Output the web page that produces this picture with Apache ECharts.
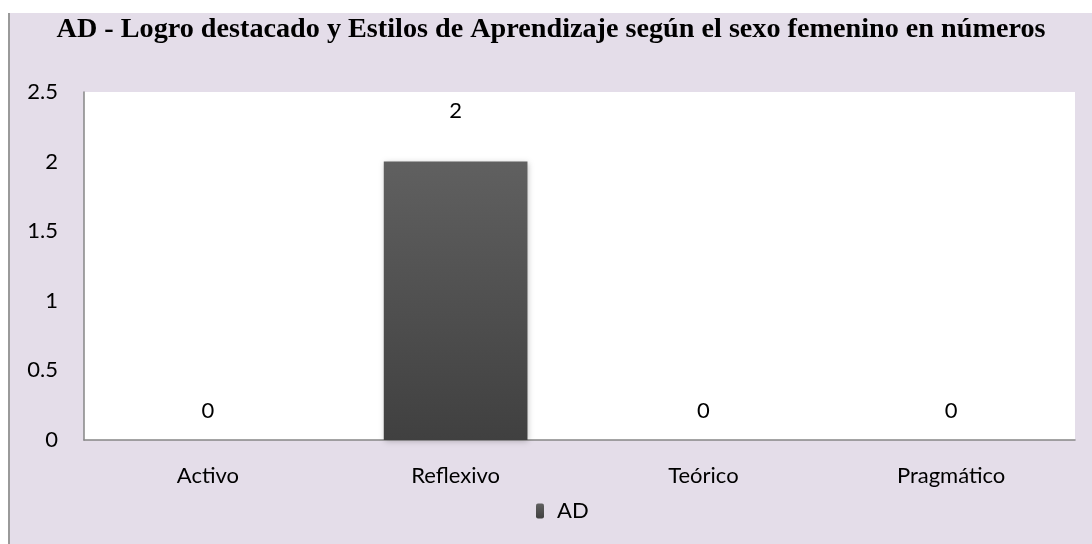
<!DOCTYPE html>
<html>
<head>
<meta charset="utf-8">
<script src="https://cdn.jsdelivr.net/npm/echarts@6/dist/echarts.min.js"></script>
<style>
    html, body { margin: 0; padding: 0; background: #ffffff; }
    #chart {
        position: absolute; left: 8px; top: 13px;
        width: 1084px; height: 531px;
        border-left: 2px solid #9a9a9a;
        box-sizing: border-box;
    }
</style>
</head>
<body>
<div id="chart"></div>
<script>
    // datos del gráfico
    var titulo = 'AD - Logro destacado y Estilos de Aprendizaje según el sexo femenino en números';
    var estilos = ['Activo', 'Reflexivo', 'Teórico', 'Pragmático'];
    var valoresAD = [0, 2, 0, 0];
    var nombreSerie = 'AD';

    var myChart = echarts.init(document.getElementById('chart'));

    var fuente = 'Lato, "Open Sans", sans-serif';

    var option = {
        backgroundColor: '#e4dde9',
        title: {
            text: titulo,
            left: 'center',
            top: -2,
            textStyle: {
                fontFamily: '"Liberation Serif", "Times New Roman", serif',
                fontSize: 28.2,
                fontWeight: 'bold',
                color: '#000'
            }
        },
        legend: {
            bottom: 17,
            left: 521,
            itemWidth: 8,
            itemHeight: 15,
            textStyle: { fontFamily: fuente, fontSize: 22, color: '#000', padding: [0, 0, 0, 8] },
            data: [nombreSerie]
        },
        grid: {
            left: 74,
            right: 17,
            top: 79,
            bottom: 104,
            show: true,
            backgroundColor: '#ffffff',
            borderWidth: 0
        },
        xAxis: {
            type: 'category',
            data: estilos,
            axisLine: { show: true, lineStyle: { color: '#868686', width: 1.5 } },
            axisTick: { show: false },
            axisLabel: { fontFamily: fuente, fontSize: 22, color: '#000', margin: 25 }
        },
        yAxis: {
            type: 'value',
            min: 0,
            max: 2.5,
            interval: 0.5,
            axisLine: { show: true, lineStyle: { color: '#868686', width: 1.5 } },
            axisTick: { show: false },
            splitLine: { show: false },
            axisLabel: { fontFamily: fuente, fontSize: 22, color: '#000', margin: 26 }
        },
        series: [{
            name: nombreSerie,
            type: 'bar',
            barWidth: '58%',
            data: valoresAD.map(function (v) {
                return { value: v, label: { distance: v > 0 ? 40 : 18 } };
            }),
            itemStyle: {
                color: new echarts.graphic.LinearGradient(0, 0, 0, 1, [
                    { offset: 0, color: '#606060' },
                    { offset: 1, color: '#404040' }
                ]),
                shadowColor: 'rgba(0,0,0,0.25)',
                shadowBlur: 6,
                shadowOffsetX: 1,
                shadowOffsetY: 1
            },
            label: {
                show: true,
                position: 'top',
                fontFamily: fuente,
                fontSize: 22,
                color: '#000'
            }
        }]
    };

    myChart.setOption(option);
</script>
</body>
</html>
